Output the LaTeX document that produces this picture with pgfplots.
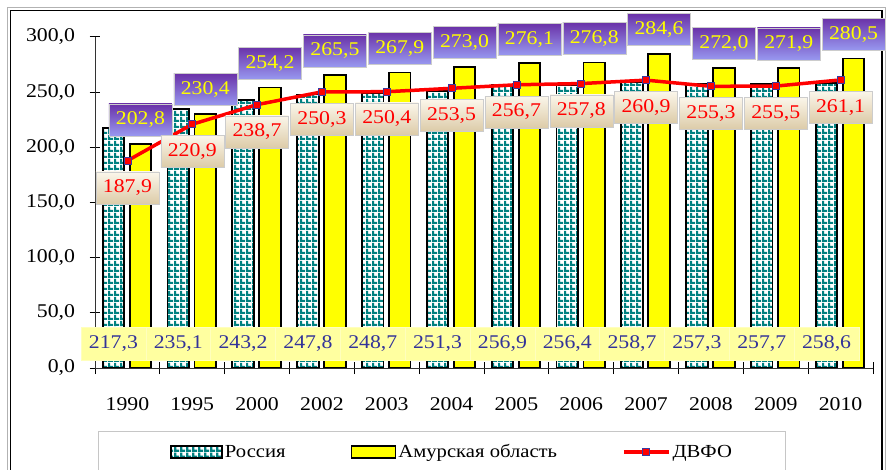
\documentclass[border=0pt]{standalone}
\usepackage{fontspec}
\setmainfont{Liberation Serif}[FakeStretch=1.12]
\usepackage{pgfplots}
\pgfplotsset{compat=1.18}
\usetikzlibrary{patterns}

\definecolor{rus}{HTML}{008080}
\definecolor{amur}{HTML}{FFFF00}
\definecolor{rustxt}{HTML}{333399}
\definecolor{rusbox}{HTML}{FFFFA0}
\definecolor{amtop}{HTML}{6A32A8}
\definecolor{ammid}{HTML}{2E2EF5}
\definecolor{ambot}{HTML}{9898F0}
\definecolor{dvtop}{HTML}{FBF6EA}
\definecolor{dvbot}{HTML}{DCCBA8}
\definecolor{dvmark}{HTML}{3A3AA0}

\pgfdeclarepatternformonly{checks}{\pgfpointorigin}{\pgfpoint{6bp}{6bp}}{\pgfpoint{6bp}{6bp}}{%
  \pgfpathrectangle{\pgfpointorigin}{\pgfpoint{6bp}{2.6bp}}%
  \pgfpathrectangle{\pgfpointorigin}{\pgfpoint{2.6bp}{6bp}}%
  \pgfusepath{fill}}

\pgfkeys{/pgf/number format/.cd, use comma, fixed, fixed zerofill, precision=1, assume math mode=true}
\newcommand{\lblfont}{\fontsize{19.5}{21}\selectfont}
\newcommand{\legfont}{\fontsize{18.5}{20}\selectfont}

\pgfplotsset{
  ruslegend/.style={legend image code/.code={%
    \draw[black, line width=1.8bp, fill=white, pattern=checks, pattern color=rus] (0bp,-6bp) rectangle (51bp,6bp);}},
  amlegend/.style={legend image code/.code={%
    \draw[black, line width=1.8bp, fill=amur] (0bp,-6bp) rectangle (44bp,6bp);}},
  dvlegend/.style={legend image code/.code={%
    \draw[red, line width=3.5bp] (0bp,0bp) -- (45bp,0bp);
    \draw[fill=red, draw=dvmark, line width=0.8bp] (19bp,-3.5bp) rectangle (26bp,3.5bp);}},
}

\begin{document}
\begin{tikzpicture}
\useasboundingbox (0,0) rectangle (888bp,470bp);
% frame and legend box
\draw[gray!60, line width=1bp] (7.5bp,-20bp) rectangle (885bp,462.5bp);
\draw[black, line width=1.2bp] (10.5bp,-20bp) rectangle (882bp,459.5bp);
\draw[gray!45, line width=0.8bp] (98bp,-20bp) rectangle (785bp,39bp);

\begin{axis}[
  at={(95bp,102bp)}, anchor=south west,
  scale only axis, width=778bp, height=331bp,
  xmin=-0.5, xmax=11.5, ymin=0, ymax=300,
  axis x line=bottom, axis y line=left,
  axis line style={-, line width=1bp, black!80},
  xtick={0,...,11},
  xticklabels={1990,1995,2000,2002,2003,2004,2005,2006,2007,2008,2009,2010},
  major x tick style={draw=none},
  minor xtick={-0.5,0.5,...,11.5},
  minor tick length=12bp,
  ytick={0,50,...,300},
  major tick length=11bp,
  tick align=center,
  tick style={black, line width=1bp},
  xticklabel style={font=\lblfont, anchor=north, yshift=-21bp},
  yticklabel style={font=\lblfont, anchor=east, xshift=-11bp},
  legend style={at={(axis description cs:0.0964,-0.2538)}, anchor=west,
    draw=none, fill=none, inner sep=0pt, font=\legfont,
    legend columns=3,
    /tikz/every even column/.append style={column sep=63bp}},
  legend cell align=left,
]
% Russia
\addplot[ybar, bar width=21.5bp, bar shift=-14bp, draw=black, line width=1.8bp,
  fill=white, pattern=checks, pattern color=rus, ruslegend]
  coordinates {(0,217.3) (1,235.1) (2,243.2) (3,247.8) (4,248.7) (5,251.3) (6,256.9) (7,256.4) (8,258.7) (9,257.3) (10,257.7) (11,258.6)};
\addlegendentry{Россия}
% Amur region
\addplot[ybar, bar width=21.5bp, bar shift=13bp, draw=black, line width=1.8bp, fill=amur,
  nodes near coords,
  every node near coord/.append style={anchor=south, xshift=13bp, yshift=8bp, font=\lblfont, text=amur,
    top color=amtop, middle color=ammid, bottom color=ambot, draw=gray!40, line width=0.5bp,
    minimum width=63bp, minimum height=32bp, inner sep=0pt},
  amlegend]
  coordinates {(0,202.8) (1,230.4) (2,254.2) (3,265.5) (4,267.9) (5,273.0) (6,276.1) (7,276.8) (8,284.6) (9,272.0) (10,271.9) (11,280.5)};
\addlegendentry{Амурская область}
% Far Eastern Federal District
\addplot[red, line width=3.5bp, mark=square*, mark size=3.5bp,
  mark options={fill=red, draw=dvmark, line width=0.8bp},
  nodes near coords,
  every node near coord/.append style={anchor=north, yshift=-11bp, font=\lblfont, text=red,
    top color=dvtop, bottom color=dvbot, draw=gray!40, line width=0.5bp,
    minimum width=63bp, minimum height=32bp, inner sep=0pt},
  dvlegend]
  coordinates {(0,187.9) (1,220.9) (2,238.7) (3,250.3) (4,250.4) (5,253.5) (6,256.7) (7,257.8) (8,260.9) (9,255.3) (10,255.5) (11,261.1)};
\addlegendentry{ДВФО}
% Russia value labels row
\addplot[draw=none, mark=none, forget plot, nodes near coords, point meta=explicit,
  every node near coord/.append style={anchor=center, xshift=-14bp, font=\lblfont, text=rustxt,
    fill=rusbox, draw=rusbox!70!white, line width=0.5bp,
    minimum width=64.8bp, minimum height=33bp, inner sep=0pt}]
  table[x=x, y=y, meta=v] {
x y v
0 22.2 217.3
1 22.2 235.1
2 22.2 243.2
3 22.2 247.8
4 22.2 248.7
5 22.2 251.3
6 22.2 256.9
7 22.2 256.4
8 22.2 258.7
9 22.2 257.3
10 22.2 257.7
11 22.2 258.6
};
\end{axis}
\end{tikzpicture}
\end{document}
